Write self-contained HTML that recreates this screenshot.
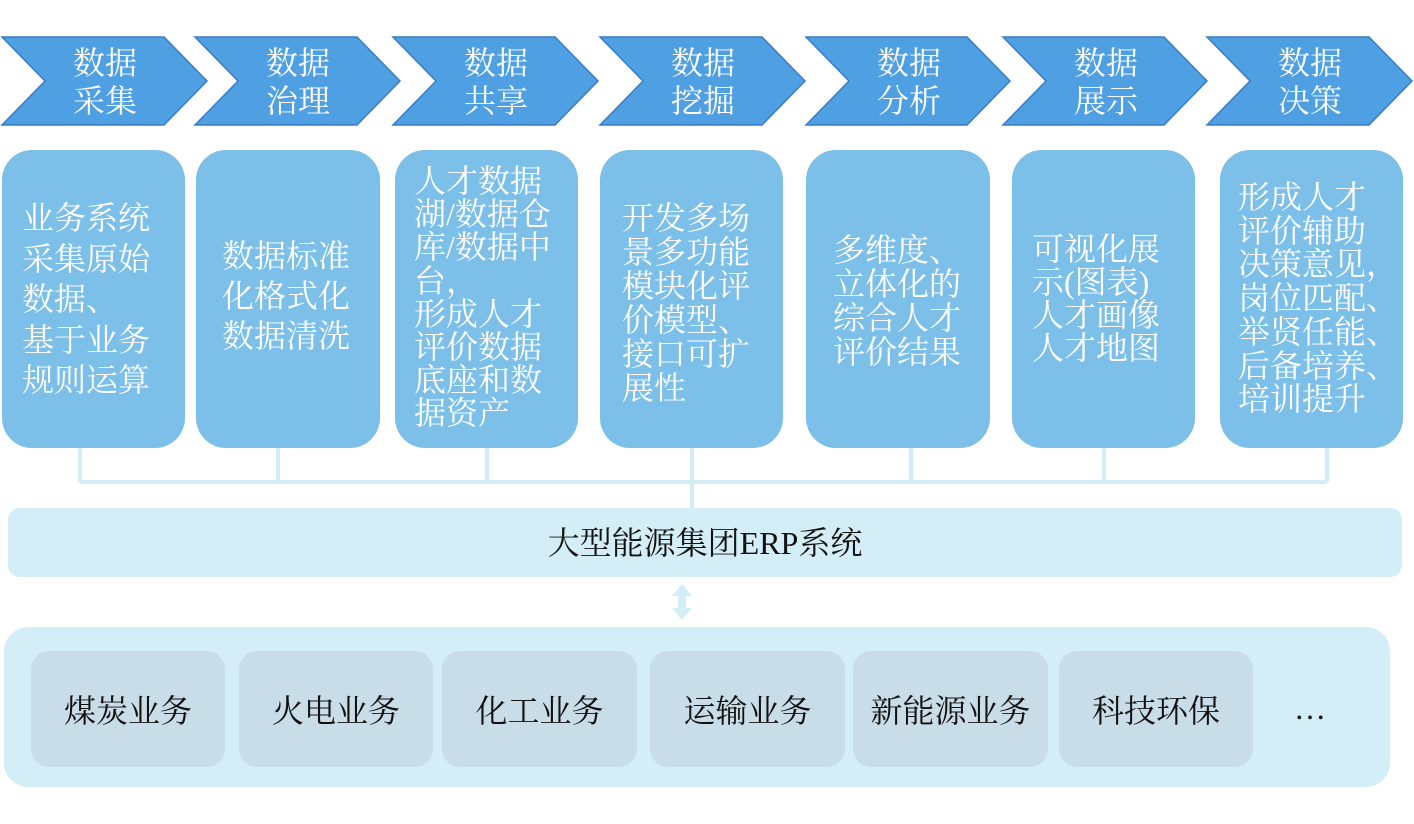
<!DOCTYPE html>
<html><head><meta charset="utf-8"><style>
body{margin:0;width:1414px;height:824px;background:#fff;position:relative;overflow:hidden;font-family:"Liberation Serif","Noto Serif CJK SC",serif}
.t{position:absolute;font-size:32px;white-space:nowrap}
.c{color:#fff;line-height:34px}
.h{color:#fff;line-height:38px;text-align:center;width:120px}
.b{position:absolute;top:651px;height:116px;background:#c9dde9;border-radius:18px;font-size:32px;display:flex;align-items:center;justify-content:center;color:#111}
</style></head><body>
<svg width="1414" height="824" style="position:absolute;left:0;top:0">
<g fill="#4f9fe3" stroke="#3a7cc4" stroke-width="1.5">
<polygon points="2,37 164,37 207,81 164,125 2,125 45,81"/>
<polygon points="195,37 357,37 400,81 357,125 195,125 238,81"/>
<polygon points="393,37 555,37 598,81 555,125 393,125 436,81"/>
<polygon points="600,37 762,37 805,81 762,125 600,125 643,81"/>
<polygon points="806,37 967,37 1010,81 967,125 806,125 849,81"/>
<polygon points="1003,37 1164,37 1207,81 1164,125 1003,125 1046,81"/>
<polygon points="1207,37 1369,37 1412,81 1369,125 1207,125 1250,81"/>
</g>
<g fill="#7cbfe8">
<rect x="2" y="150" width="183" height="298" rx="30"/>
<rect x="196" y="150" width="184" height="298" rx="30"/>
<rect x="395" y="150" width="183" height="298" rx="30"/>
<rect x="600" y="150" width="183" height="298" rx="30"/>
<rect x="806" y="150" width="184" height="298" rx="30"/>
<rect x="1012" y="150" width="183" height="298" rx="30"/>
<rect x="1220" y="150" width="183" height="298" rx="30"/>
</g>
<g stroke="#d3ecf5" stroke-width="4" fill="none">
<path d="M80 448V482M278 448V482M487 448V482M692 448V508M911 448V482M1104 448V482M1327 448V482M80 482H1327"/>
</g>
<rect x="8" y="508" width="1394" height="69" rx="12" fill="#d3eef6"/>
<rect x="4" y="627" width="1386" height="160" rx="24" fill="#d3eef6"/>
<polygon points="682,584 692,596 686,596 686,608 692,608 682,620 672,608 678,608 678,596 672,596" fill="#d3eef6"/>
</svg>
<div class="t h" style="left:45px;top:44px">数据<br>采集</div>
<div class="t h" style="left:238px;top:44px">数据<br>治理</div>
<div class="t h" style="left:436px;top:44px">数据<br>共享</div>
<div class="t h" style="left:643px;top:44px">数据<br>挖掘</div>
<div class="t h" style="left:849px;top:44px">数据<br>分析</div>
<div class="t h" style="left:1046px;top:44px">数据<br>展示</div>
<div class="t h" style="left:1250px;top:44px">数据<br>决策</div>

<div class="t c" style="left:22px;top:198px;line-height:40.5px">业务系统<br>采集原始<br>数据、<br>基于业务<br>规则运算</div>
<div class="t c" style="left:222px;top:236px;line-height:40px">数据标准<br>化格式化<br>数据清洗</div>
<div class="t c" style="left:414px;top:165px;line-height:33.2px">人才数据<br>湖/数据仓<br>库/数据中<br>台，<br>形成人才<br>评价数据<br>底座和数<br>据资产</div>
<div class="t c" style="left:622px;top:201px">开发多场<br>景多功能<br>模块化评<br>价模型、<br>接口可扩<br>展性</div>
<div class="t c" style="left:833px;top:233px">多维度、<br>立体化的<br>综合人才<br>评价结果</div>
<div class="t c" style="left:1032px;top:233px;line-height:33px">可视化展<br>示(图表)<br>人才画像<br>人才地图</div>
<div class="t c" style="left:1238px;top:181px;line-height:33.7px">形成人才<br>评价辅助<br>决策意见，<br>岗位匹配、<br>举贤任能、<br>后备培养、<br>培训提升</div>

<div class="t" style="left:8px;width:1394px;top:524px;text-align:center;line-height:38px;color:#111">大型能源集团ERP系统</div>

<div class="b" style="left:31px;width:194px">煤炭业务</div>
<div class="b" style="left:239px;width:194px">火电业务</div>
<div class="b" style="left:442px;width:195px">化工业务</div>
<div class="b" style="left:650px;width:195px">运输业务</div>
<div class="b" style="left:853px;width:195px">新能源业务</div>
<div class="b" style="left:1059px;width:194px">科技环保</div>
<div class="t" style="left:1294px;top:690px;color:#111">…</div>
</body></html>
